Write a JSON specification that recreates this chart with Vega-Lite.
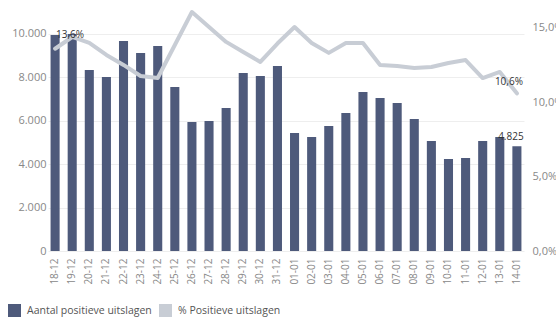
{
  "$schema": "https://vega.github.io/schema/vega-lite/v6.json",
  "width": 476,
  "height": 246,
  "autosize": {"type": "none"},
  "padding": {"left": 48, "top": 5, "right": 32, "bottom": 67},
  "config": {
    "locale": {"number": {"decimal": ",", "thousands": ".", "grouping": [3], "currency": ["€", ""]}},
    "view": {"stroke": null},
    "font": "Open Sans"
  },
  "data": {"values": [
    {"d": "18-12", "aantal": 9950, "pct": 0.136},
    {"d": "19-12", "aantal": 10000, "pct": 0.1439},
    {"d": "20-12", "aantal": 8340, "pct": 0.1399},
    {"d": "21-12", "aantal": 8020, "pct": 0.1318},
    {"d": "22-12", "aantal": 9680, "pct": 0.1251},
    {"d": "23-12", "aantal": 9120, "pct": 0.1177},
    {"d": "24-12", "aantal": 9450, "pct": 0.1163},
    {"d": "25-12", "aantal": 7560, "pct": 0.1385},
    {"d": "26-12", "aantal": 5945, "pct": 0.1607},
    {"d": "27-12", "aantal": 5990, "pct": 0.1506},
    {"d": "28-12", "aantal": 6590, "pct": 0.1406},
    {"d": "29-12", "aantal": 8200, "pct": 0.1338},
    {"d": "30-12", "aantal": 8065, "pct": 0.1271},
    {"d": "31-12", "aantal": 8525, "pct": 0.1395},
    {"d": "01-01", "aantal": 5440, "pct": 0.1506},
    {"d": "02-01", "aantal": 5250, "pct": 0.1399},
    {"d": "03-01", "aantal": 5760, "pct": 0.1332},
    {"d": "04-01", "aantal": 6360, "pct": 0.1399},
    {"d": "05-01", "aantal": 7330, "pct": 0.1399},
    {"d": "06-01", "aantal": 7050, "pct": 0.1251},
    {"d": "07-01", "aantal": 6820, "pct": 0.1244},
    {"d": "08-01", "aantal": 6080, "pct": 0.1231},
    {"d": "09-01", "aantal": 5070, "pct": 0.1237},
    {"d": "10-01", "aantal": 4240, "pct": 0.1264},
    {"d": "11-01", "aantal": 4285, "pct": 0.1284},
    {"d": "12-01", "aantal": 5070, "pct": 0.1163},
    {"d": "13-01", "aantal": 5250, "pct": 0.1204},
    {"d": "14-01", "aantal": 4825, "pct": 0.106}
  ]},
  "encoding": {
    "x": {
      "field": "d", "type": "ordinal", "sort": null,
      "scale": {"paddingInner": 0.47, "paddingOuter": 0.15},
      "axis": {"title": null, "labelAngle": -90, "labelAlign": "right", "labelBaseline": "middle", "labelPadding": 7, "labelFontSize": 10, "labelColor": "#888888", "domain": false, "ticks": false}
    }
  },
  "layer": [
    {
      "encoding": {
        "y": {
          "field": "aantal", "type": "quantitative",
          "scale": {"domain": [0, 11336], "nice": false},
          "axis": {"title": null, "orient": "left", "values": [0, 2000, 4000, 6000, 8000, 10000], "format": ",.0f", "grid": true, "gridColor": "#eeeeee", "domain": false, "ticks": false, "labelColor": "#888888", "labelFontSize": 11, "labelPadding": 2}
        }
      },
      "layer": [
        {
          "mark": {"type": "bar"},
          "encoding": {
            "color": {
              "datum": "Aantal positieve uitslagen",
              "scale": {"domain": ["Aantal positieve uitslagen", "% Positieve uitslagen"], "range": ["#4e5a7b", "#c8cdd5"]},
              "legend": {"title": null, "orient": "none", "legendX": -41, "legendY": 298, "direction": "horizontal", "symbolType": "square", "symbolSize": 169, "labelFontSize": 10.5, "labelColor": "#555555", "columnPadding": 6, "labelOffset": 5}
            }
          }
        },
        {
          "transform": [{"filter": "datum.d == '14-01'"}],
          "mark": {"type": "text", "dx": -6, "dy": -9, "fontSize": 10, "color": "#333333"},
          "encoding": {"text": {"field": "aantal", "type": "quantitative", "format": ",.0f"}}
        }
      ]
    },
    {
      "encoding": {
        "y": {
          "field": "pct", "type": "quantitative",
          "scale": {"domain": [0, 0.1654], "nice": false},
          "axis": {"title": null, "orient": "right", "values": [0, 0.05, 0.1, 0.15], "format": ".1%", "grid": false, "domain": false, "ticks": false, "labelColor": "#888888", "labelFontSize": 11, "labelPadding": 8}
        }
      },
      "layer": [
        {
          "mark": {"type": "line", "color": "#c8cdd5", "strokeWidth": 4, "strokeJoin": "round", "strokeCap": "round"}
        },
        {
          "transform": [{"filter": "datum.d == '18-12'"}],
          "mark": {"type": "text", "align": "left", "dx": 1, "dy": -14, "fontSize": 10, "color": "#333333"},
          "encoding": {"text": {"field": "pct", "type": "quantitative", "format": ".1%"}}
        },
        {
          "transform": [{"filter": "datum.d == '14-01'"}],
          "mark": {"type": "text", "align": "center", "dx": -8, "dy": -11, "fontSize": 10, "color": "#333333"},
          "encoding": {"text": {"field": "pct", "type": "quantitative", "format": ".1%"}}
        }
      ]
    }
  ],
  "resolve": {"scale": {"y": "independent"}}
}
